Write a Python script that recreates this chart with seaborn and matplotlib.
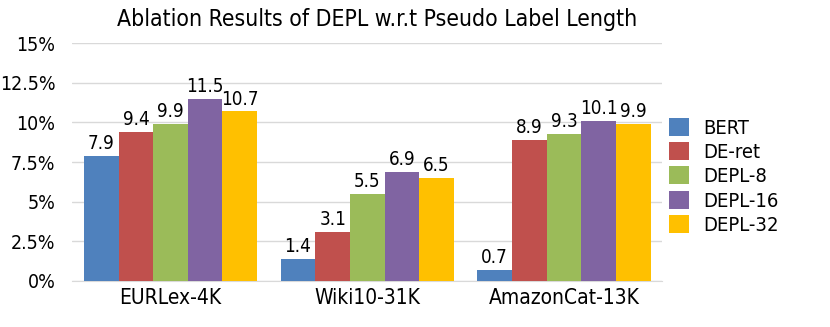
import pandas as pd
import matplotlib.pyplot as plt
import seaborn as sns
from matplotlib.ticker import FuncFormatter

datasets = ["EURLex-4K", "Wiki10-31K", "AmazonCat-13K"]
methods = ["BERT", "DE-ret", "DEPL-8", "DEPL-16", "DEPL-32"]
bert = [7.9, 1.4, 0.7]
de_ret = [9.4, 3.1, 8.9]
depl_8 = [9.9, 5.5, 9.3]
depl_16 = [11.5, 6.9, 10.1]
depl_32 = [10.7, 6.5, 9.9]
colors = ["#4F81BD", "#C0504D", "#9BBB59", "#8064A2", "#FFC000"]

rows = []
for method, vals in zip(methods, [bert, de_ret, depl_8, depl_16, depl_32]):
    for ds, v in zip(datasets, vals):
        rows.append({"dataset": ds, "method": method, "value": v})
df = pd.DataFrame(rows)

sns.set_style("white")
plt.rcParams['font.family'] = ['DejaVu Sans']
plt.rcParams['font.stretch'] = 'condensed'
plt.rcParams['text.color'] = 'black'
plt.rcParams['xtick.color'] = 'black'
plt.rcParams['ytick.color'] = 'black'

fig = plt.figure(figsize=(8.3, 3.27), dpi=100)
ax = fig.add_axes([0.087, 0.141, 0.711, 0.727])

sns.barplot(data=df, x="dataset", y="value", hue="method", order=datasets,
            hue_order=methods, palette=colors, width=0.88, gap=0,
            saturation=1, linewidth=0, ax=ax, zorder=3)

for cont in ax.containers:
    ax.bar_label(cont, fmt="%.1f", padding=2, fontsize=13.5, color='black')

ax.set_ylim(0, 15)
ax.set_yticks([0, 2.5, 5, 7.5, 10, 12.5, 15])
ax.yaxis.set_major_formatter(FuncFormatter(lambda v, _: f"{v:g}%"))
ax.grid(axis='y', color='#D9D9D9', linewidth=1, zorder=0)
ax.set_axisbelow(True)
for side in ["top", "right", "left"]:
    ax.spines[side].set_visible(False)
ax.spines["bottom"].set_color("#D9D9D9")
ax.tick_params(axis='x', length=0, labelsize=15, pad=5)
ax.tick_params(axis='y', length=0, labelsize=14, pad=12)
ax.set_xlabel("")
ax.set_ylabel("")
ax.set_title("Ablation Results of DEPL w.r.t Pseudo Label Length",
             fontsize=16.5, pad=12, x=0.517, color='black')

ax.legend(loc="center left", bbox_to_anchor=(0.99, 0.44), frameon=False,
          fontsize=14.5, handlelength=1.0, handleheight=1.0,
          handletextpad=0.7, labelspacing=0.22, borderaxespad=0.2)

fig.savefig("out.png", dpi=100)
plt.close()
